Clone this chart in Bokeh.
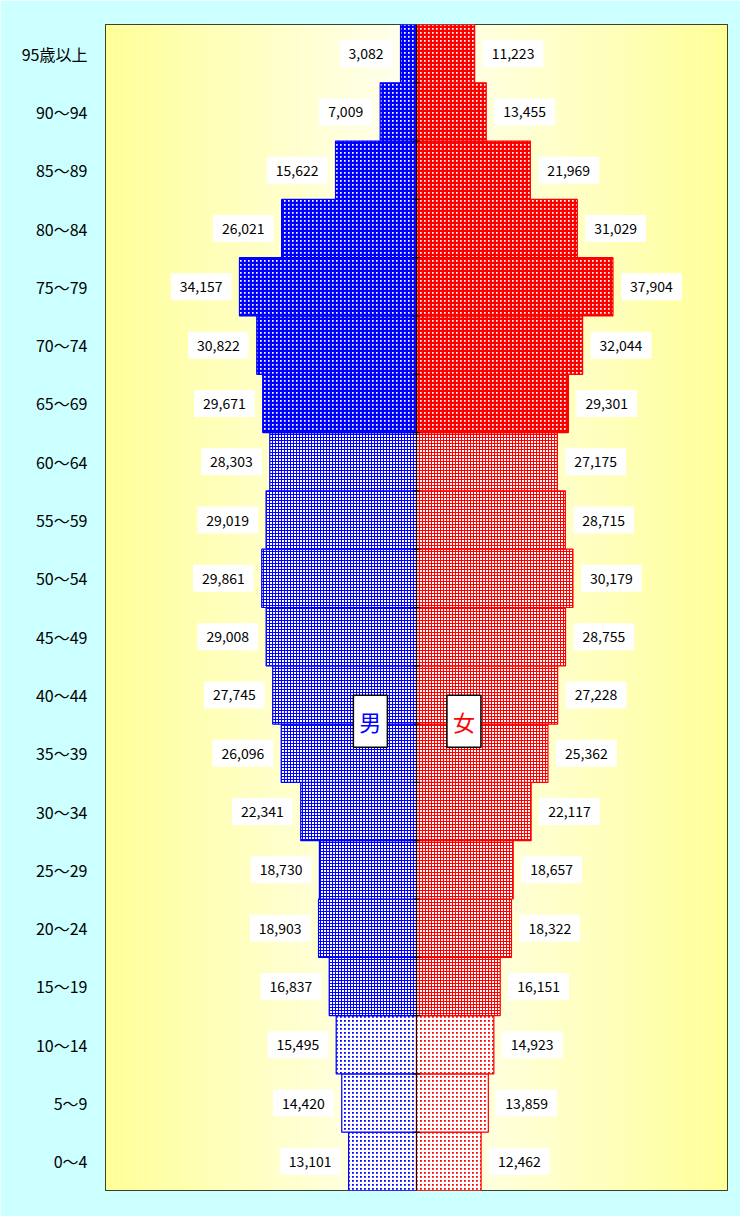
import numpy as np
from bokeh.plotting import figure
from bokeh.models import ColumnDataSource, Range1d, FixedTicker, Label, Span
from bokeh.embed import file_html
from bokeh.resources import INLINE
from bokeh.core.properties import value

# Age groups, bottom to top
ages = ["0～4", "5～9", "10～14", "15～19", "20～24", "25～29", "30～34", "35～39",
        "40～44", "45～49", "50～54", "55～59", "60～64", "65～69", "70～74", "75～79",
        "80～84", "85～89", "90～94", "95歳以上"]
male = [13101, 14420, 15495, 16837, 18903, 18730, 22341, 26096, 27745, 29008,
        29861, 29019, 28303, 29671, 30822, 34157, 26021, 15622, 7009, 3082]
female = [12462, 13859, 14923, 16151, 18322, 18657, 22117, 25362, 27228, 28755,
          30179, 28715, 27175, 29301, 32044, 37904, 31029, 21969, 13455, 11223]
# age bands: 0 = 0-14, 1 = 15-64, 2 = 65+
band = [0] * 3 + [1] * 10 + [2] * 7

n = len(ages)
ypos = [i + 0.5 for i in range(n)]
XMAX = 60000
FONT = "Noto Sans CJK JP"

p = figure(width=740, height=1216,
           x_range=Range1d(-XMAX, XMAX), y_range=Range1d(0, n),
           output_backend="svg", toolbar_location=None, x_axis_location=None,
           min_border_left=105, min_border_right=13, min_border_top=24, min_border_bottom=26,
           border_fill_color="#CCFFFF", background_fill_color="#FFFFE8",
           outline_line_color="black", outline_line_width=1)
p.xgrid.visible = False
p.ygrid.visible = False

# background gradient (yellow at edges, pale at centre)
NS = 90
edges = np.linspace(-XMAX, XMAX, 2 * NS + 1)
lefts, rights = edges[:-1], edges[1:]
t = np.abs((lefts + rights) / 2) / XMAX
bch = (0xF2 + (0x96 - 0xF2) * t).astype(int)
gcols = ["#FFFF%02X" % v for v in bch]
p.quad(left=lefts, right=rights, bottom=0, top=n, fill_color=gcols, line_color=None)

for side, vals, col in (("m", male, "#0000FF"), ("f", female, "#FF0000")):
    for b in (0, 1, 2):
        idx = [i for i in range(n) if band[i] == b]
        vv = [vals[i] for i in idx]
        yy = [ypos[i] for i in idx]
        if side == "m":
            left, right = [-v for v in vv], [0] * len(vv)
        else:
            left, right = [0] * len(vv), vv
        src = ColumnDataSource(dict(y=yy, left=left, right=right))
        if b == 0:
            fc, hc, hs, hw = col, "white", 4, 2.3
        elif b == 1:
            fc, hc, hs, hw = "white", col, 3, 1
        else:
            fc, hc, hs, hw = "white", col, 4, 2.7
        p.hbar(y="y", left="left", right="right", height=1.0, source=src,
               fill_color=fc, hatch_pattern="cross", hatch_color=hc,
               hatch_scale=hs, hatch_weight=hw,
               line_color=col, line_width=1.2)

# centre line with small ticks
p.add_layout(Span(location=0, dimension="height", line_color="black", line_width=1))
bounds = list(range(1, n))
p.segment(x0=[-700] * len(bounds), x1=[700] * len(bounds), y0=bounds, y1=bounds,
          line_color="black", line_width=1)

# value labels
msrc = ColumnDataSource(dict(x=[-v for v in male], y=ypos, t=[f"{v:,}" for v in male]))
fsrc = ColumnDataSource(dict(x=female, y=ypos, t=[f"{v:,}" for v in female]))
for src, align, off in ((msrc, "right", -8), (fsrc, "left", 8)):
    p.text(x="x", y="y", text="t", source=src, text_align=align, text_baseline="middle",
           x_offset=off, text_font=value(FONT), text_font_size="14px", text_color="black",
           background_fill_color="white", border_line_color=None, padding=(9, 8))

# gender labels
for xv, txt, col in ((-8900, "男", "#0000FF"), (9150, "女", "#FF0000")):
    p.add_layout(Label(x=xv, y=8.05, text=txt, text_align="center", text_baseline="middle",
                       text_font=FONT, text_font_size="22px", text_color=col,
                       background_fill_color="white", border_line_color="black",
                       border_line_width=1.5, padding=(6, 10)))

# y axis
p.yaxis.ticker = FixedTicker(ticks=ypos)
p.yaxis.major_label_overrides = {y: a for y, a in zip(ypos, ages)}
p.yaxis.major_label_text_font = FONT
p.yaxis.major_label_text_font_size = "16px"
p.yaxis.major_label_text_color = "black"
p.yaxis.major_label_standoff = 12
p.yaxis.major_tick_line_color = None
p.yaxis.minor_tick_line_color = None
p.yaxis.axis_line_color = None

open("out.html", "w").write(file_html(p, INLINE))
